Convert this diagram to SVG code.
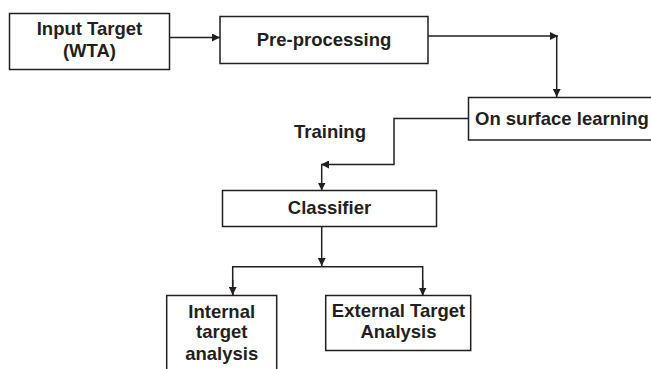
<svg xmlns="http://www.w3.org/2000/svg" width="651" height="369" viewBox="0 0 651 369">
<style>
.box{fill:#fff;stroke:#231f20;stroke-width:1.5}
.ln{fill:none;stroke:#231f20;stroke-width:1.5}
text{font-family:"Liberation Sans",Arial,sans-serif;font-weight:bold;font-size:18.5px;fill:#231f20}
.c{text-anchor:middle}
</style>
<defs>
<marker id="ah" viewBox="0 0 10 10" refX="10" refY="5" markerWidth="8" markerHeight="8" markerUnits="userSpaceOnUse" orient="auto">
<path d="M0,0 L10,5 L0,10 Z" fill="#231f20"/>
</marker>
</defs>
<rect width="651" height="369" fill="#fff"/>
<g id="connectors">
<path class="ln" d="M169.5,37.5 H220" marker-end="url(#ah)"/>
<path class="ln" d="M428,36 H558" marker-end="url(#ah)"/>
<path class="ln" d="M556.7,36 V97" marker-end="url(#ah)"/>
<path class="ln" d="M468.5,118.5 H394 V164.5 H321" marker-end="url(#ah)"/>
<path class="ln" d="M321.7,164.5 V190.5" marker-end="url(#ah)"/>
<path class="ln" d="M321.7,226.5 V266" marker-end="url(#ah)"/>
<path class="ln" d="M232.7,295 V266.7 H422.7 V295"/>
<path class="ln" d="M232.7,280 V295" marker-end="url(#ah)"/>
<path class="ln" d="M422.7,280 V295.5" marker-end="url(#ah)"/>
</g>
<g id="input">
<rect class="box" x="9.5" y="13.5" width="160" height="56"/>
<text class="c" x="89.5" y="35">Input Target</text>
<text class="c" x="89.5" y="56.5">(WTA)</text>
</g>
<g id="preprocessing">
<rect class="box" x="220" y="16.5" width="208" height="47"/>
<text class="c" x="324" y="45.5">Pre-processing</text>
</g>
<g id="surface">
<path class="box" d="M655,97.5 H468.5 V140 H655"/>
<text x="475" y="124.5">On surface learning</text>
</g>
<g id="training">
<text x="294" y="138">Training</text>
</g>
<g id="classifier">
<rect class="box" x="222.5" y="190.5" width="214" height="36"/>
<text class="c" x="329.5" y="213.5">Classifier</text>
</g>
<g id="internal">
<path class="box" d="M166.7,372 V295.5 H276.7 V372"/>
<text class="c" x="221.7" y="317.5">Internal</text>
<text class="c" x="221.7" y="337.5">target</text>
<text class="c" x="221.7" y="360">analysis</text>
</g>
<g id="external">
<rect class="box" x="325.7" y="295.5" width="145" height="55"/>
<text class="c" x="398.5" y="317">External Target</text>
<text class="c" x="398.5" y="337.5">Analysis</text>
</g>
</svg>
